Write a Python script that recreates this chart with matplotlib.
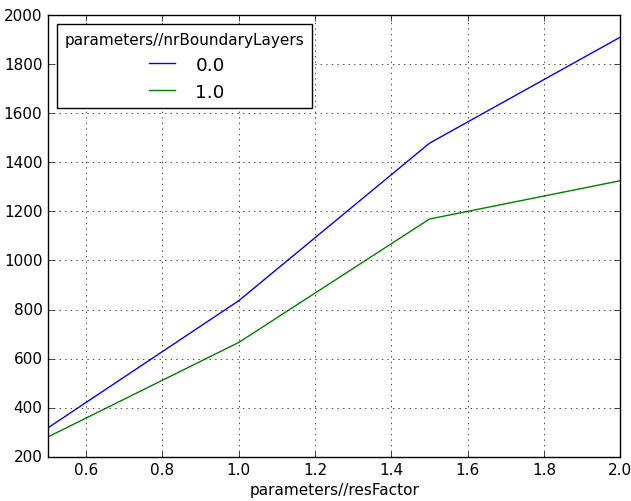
import matplotlib
matplotlib.use("Agg")
import matplotlib.pyplot as plt

plt.style.use("classic")
plt.rcParams["font.size"] = 11

res_factor = [0.5, 1.0, 1.5, 2.0]
boundary_layers = ["0.0", "1.0"]
values = {
    "0.0": [318, 836, 1478, 1910],
    "1.0": [281, 666, 1169, 1325],
}
colors = {"0.0": "b", "1.0": "g"}

fig = plt.figure(figsize=(6.31, 5.02), dpi=100, facecolor="white")
ax = fig.add_axes([0.076, 0.088, 0.907, 0.880])

for key in boundary_layers:
    ax.plot(res_factor, values[key], color=colors[key], label=key)

ax.set_xlim(0.5, 2.0)
ax.set_ylim(200, 2000)
ax.set_xlabel("parameters//resFactor", labelpad=3)
ax.grid(True)
ax.legend(loc="upper left", title="parameters//nrBoundaryLayers")

fig.savefig("out.png", dpi=100, facecolor="white")
